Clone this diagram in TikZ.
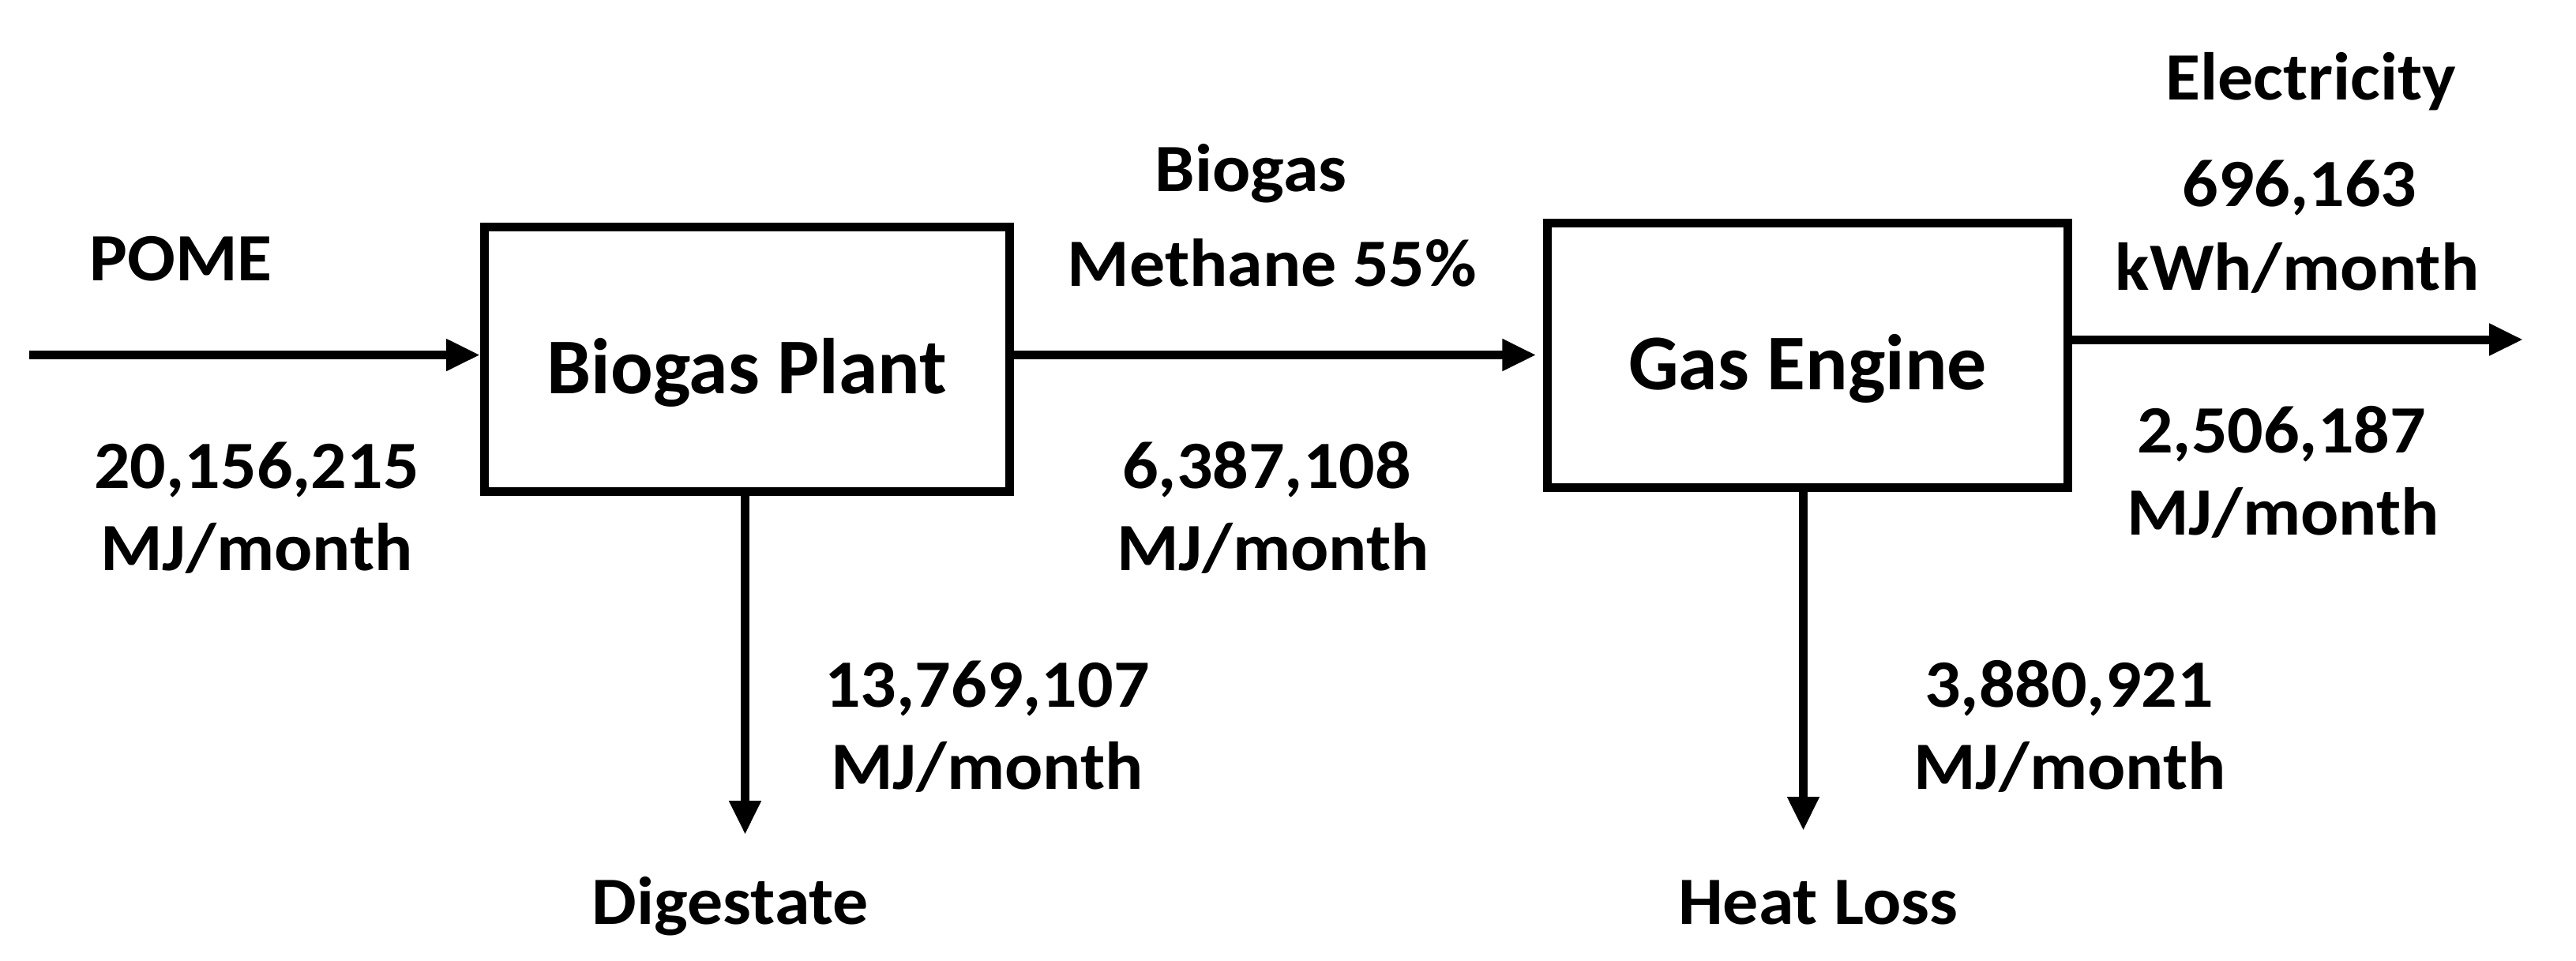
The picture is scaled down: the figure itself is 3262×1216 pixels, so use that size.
\documentclass[tikz,border=0pt]{standalone}
\usepackage{fontspec}
\setmainfont{Carlito}
\newfontfamily\lblfont{Carlito}[FakeStretch=1.05]
\usetikzlibrary{arrows.meta}
\begin{document}
\begin{tikzpicture}[x=0.28pt,y=-0.28pt,
  lw/.style={line width=3.08pt},
  arr/.style={lw,-{Triangle[length=12pt,width=10.6pt]}},
  box/.style={draw,lw,rectangle,inner sep=0pt,font=\fontsize{28}{34}\selectfont\bfseries,text height=24.4pt,text depth=0pt},
  lbl/.style={anchor=base,inner sep=0pt,font=\lblfont\fontsize{24}{29}\selectfont\bfseries}]
\useasboundingbox (0,0) rectangle (3262,1216);
% boxes
\node[box,minimum width=186.2pt,minimum height=93.9pt] (bp) at (946,455) {Biogas Plant};
\node[box,minimum width=184.4pt,minimum height=93.8pt] (ge) at (2289,449.5) {Gas Engine};
% free ends
\coordinate (pomein) at (37,449.5);
\coordinate (elout) at (3195,430);
\coordinate (digout) at (943.5,1057);
\coordinate (heatout) at (2283.5,1052);
% connectors
\draw[arr] (pomein) -- (pomein -| bp.west);
\draw[arr,shorten >=2.5pt] (bp.east |- ge.west) -- (ge.west);
\draw[arr] (ge.east |- elout) -- (elout);
\draw[arr] (bp.south -| digout) -- (digout);
\draw[arr] (ge.south -| heatout) -- (heatout);
% labels
\node[lbl] (pome) at (229,355) {POME};
\node[lbl] (pomev) at (325,618) {20,156,215};
\node[lbl] (pomeu) at (325,722) {MJ/month};
\node[lbl] (bg) at (1584,242) {Biogas};
\node[lbl] (meth) at (1611,362) {Methane 55\%};
\node[lbl] (bgv) at (1604,618) {6,387,108};
\node[lbl] (bgu) at (1612,722) {MJ/month};
\node[lbl] (el) at (2926,126) {Electricity};
\node[lbl] (elv) at (2912,261) {696,163};
\node[lbl] (elu) at (2909,367) {kWh/month};
\node[lbl] (elv2) at (2889,573) {2,506,187};
\node[lbl] (elu2) at (2891,677) {MJ/month};
\node[lbl] (digv) at (1250,895) {13,769,107};
\node[lbl] (digu) at (1250,999) {MJ/month};
\node[lbl] (heatv) at (2620,895) {3,880,921};
\node[lbl] (heatu) at (2621,999) {MJ/month};
\node[lbl] (dig) at (925,1170) {Digestate};
\node[lbl] (heat) at (2302,1170) {Heat Loss};
\end{tikzpicture}
\end{document}
